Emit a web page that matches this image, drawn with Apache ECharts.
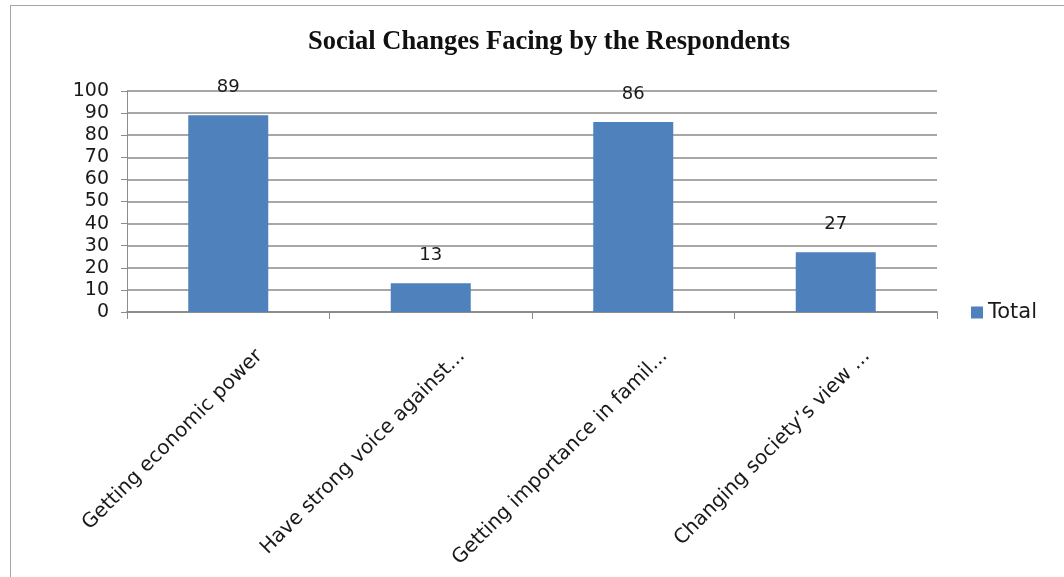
<!DOCTYPE html>
<html>
<head>
<meta charset="utf-8">
<script src="https://cdn.jsdelivr.net/npm/echarts@6/dist/echarts.min.js"></script>
<style>
  html, body { margin: 0; padding: 0; background: #ffffff; }
  #frame { position: absolute; left: 10px; top: 5px; width: 1070px; height: 590px; border: 1px solid #a6a6a6; box-sizing: border-box; }
  #chart { position: absolute; left: 0; top: 0; width: 1064px; height: 577px; }
</style>
</head>
<body>
<div id="frame"></div>
<div id="chart"></div>
<script>
// Responses per social change
const categories = [
  'Getting economic power',
  'Have strong voice against...',
  'Getting importance in famil...',
  'Changing society\u2019s view ...'
];
const totals = [89, 13, 86, 27];
const seriesName = 'Total';
const chartTitle = 'Social Changes Facing by the Respondents';

const chart = echarts.init(document.getElementById('chart'), null, { renderer: 'canvas' });

const labelFont = 'DejaVu Sans, Verdana, sans-serif';

chart.setOption({
  animation: false,
  title: {
    text: chartTitle,
    left: 544,
    top: 24,
    textAlign: 'center',
    textStyle: {
      fontFamily: 'Liberation Serif, Times New Roman, serif',
      fontWeight: 'bold',
      fontSize: 26.5,
      color: '#111111'
    }
  },
  legend: {
    data: [seriesName],
    left: 966,
    top: 297,
    orient: 'vertical',
    itemWidth: 12,
    itemHeight: 12,
    itemGap: 4,
    icon: 'rect',
    textStyle: { fontFamily: labelFont, fontSize: 21, color: '#1a1a1a' }
  },
  grid: {
    left: 127,
    right: 127,
    top: 91,
    bottom: 265,
    containLabel: false
  },
  xAxis: {
    type: 'category',
    data: categories,
    axisLine: { lineStyle: { color: '#8c8c8c', width: 2 } },
    axisTick: { show: true, alignWithLabel: false, length: 7, lineStyle: { color: '#8c8c8c', width: 1 } },
    axisLabel: {
      interval: 0,
      rotate: 45,
      margin: 10,
      lineHeight: 22,
      // leading blank lines push each rotated label away from the axis
      formatter: function (v) { return '\n\n\n\n' + v; },
      fontFamily: labelFont,
      fontSize: 20,
      color: '#1a1a1a'
    },
    splitLine: { show: false }
  },
  yAxis: {
    type: 'value',
    min: 0,
    max: 100,
    interval: 10,
    axisLine: { show: true, lineStyle: { color: '#8c8c8c', width: 1 } },
    axisTick: { show: true, length: 6, lineStyle: { color: '#8c8c8c' } },
    axisLabel: {
      margin: 18,
      fontFamily: labelFont,
      fontSize: 19,
      color: '#1a1a1a'
    },
    splitLine: { show: true, lineStyle: { color: '#8a8a8a', width: 1.5 } }
  },
  series: [{
    name: seriesName,
    type: 'bar',
    data: totals,
    barWidth: 80,
    itemStyle: { color: '#4f81bd' },
    label: {
      show: true,
      position: 'top',
      distance: 19,
      fontFamily: labelFont,
      fontSize: 18,
      color: '#1a1a1a'
    }
  }]
});
</script>
</body>
</html>
